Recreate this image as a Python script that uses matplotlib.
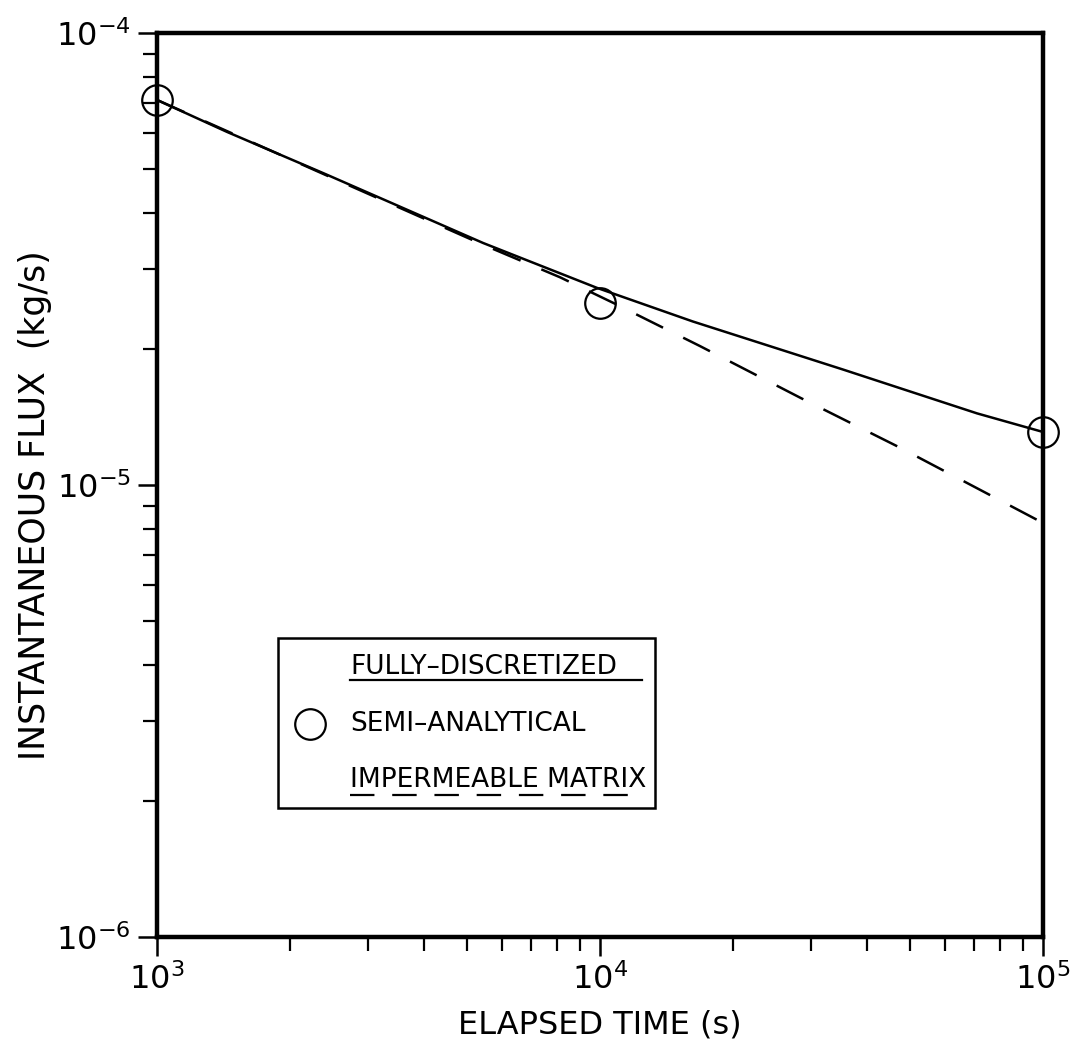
import numpy as np
import matplotlib
matplotlib.use("Agg")
import matplotlib.pyplot as plt
from matplotlib.patches import Rectangle

plt.rcParams['font.family'] = ['DejaVu Sans']
plt.rcParams['mathtext.fontset'] = 'dejavusans'

# fully-discretized solution (solid)
t_full = [1e3, 1.44e3, 2.37e3, 5.45e3, 9.84e3, 1.62e4, 3.54e4, 7.1e4, 1e5]
flux_full = [7.11e-5, 6.04e-5, 4.90e-5, 3.43e-5, 2.73e-5, 2.30e-5, 1.80e-5, 1.44e-5, 1.31e-5]

# impermeable matrix (dashed)
t_imp = [1e3, 2.37e3, 5.45e3, 8.13e3, 1.07e4, 1.68e4, 2.83e4, 4.75e4, 1e5]
flux_imp = [7.11e-5, 4.88e-5, 3.40e-5, 2.88e-5, 2.53e-5, 2.03e-5, 1.56e-5, 1.21e-5, 8.24e-6]

# semi-analytical (circles)
t_semi = [1e3, 1e4, 1e5]
flux_semi = [7.1e-5, 2.53e-5, 1.31e-5]

fig = plt.figure(figsize=(10.71, 10.58), dpi=100)
ax = fig.add_axes([0.1466, 0.1144, 0.8273, 0.8544])

ax.plot(t_full, flux_full, color='black', lw=1.8)
ax.plot(t_imp, flux_imp, color='black', lw=1.8, dashes=(12, 9))
ax.plot(t_semi, flux_semi, 'o', ms=22, mfc='none', mec='black', mew=1.6,
        clip_on=False, zorder=5)

ax.set_xscale('log')
ax.set_yscale('log')
ax.set_xlim(1e3, 1e5)
ax.set_ylim(1e-6, 1e-4)

for s in ax.spines.values():
    s.set_linewidth(3.2)
ax.tick_params(which='major', direction='out', length=14, width=1.8,
               labelsize=23, pad=5)
ax.tick_params(which='minor', direction='out', length=10, width=1.6)

ax.set_xlabel('ELAPSED TIME (s)', fontsize=23, labelpad=10)
ax.set_ylabel('INSTANTANEOUS FLUX  (kg/s)', fontsize=25)
ax.yaxis.set_label_coords(-0.118, 0.478)

# legend drawn by hand: line samples appear as underlines
tr = ax.transAxes
ax.add_patch(Rectangle((0.1366, 0.1427), 0.4254, 0.188, transform=tr,
                       fill=False, lw=1.8, ec='black', clip_on=False))
fs = 19
ax.text(0.2178, 0.2987, 'FULLY\u2013DISCRETIZED', transform=tr, fontsize=fs,
        va='center', ha='left')
ax.plot([0.2178, 0.5474], [0.2843, 0.2843], transform=tr, color='black',
        lw=1.6, clip_on=False)
ax.plot([0.1727], [0.2356], 'o', transform=tr, ms=22, mfc='none',
        mec='black', mew=1.6, clip_on=False)
ax.text(0.2178, 0.2356, 'SEMI\u2013ANALYTICAL', transform=tr, fontsize=fs,
        va='center', ha='left')
ax.text(0.2178, 0.1737, 'IMPERMEABLE MATRIX', transform=tr, fontsize=fs,
        va='center', ha='left')
ax.plot([0.2178, 0.5474], [0.157, 0.157], transform=tr, color='black',
        lw=1.6, dashes=(11, 8), clip_on=False)

fig.savefig('out.png', dpi=100)
